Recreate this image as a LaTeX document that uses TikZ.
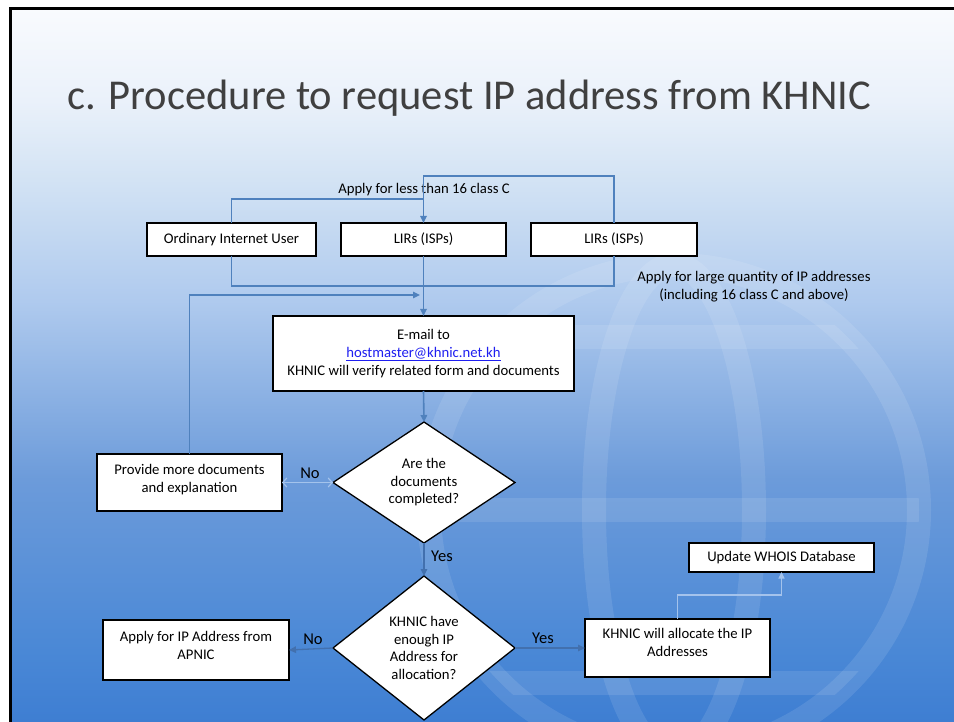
\documentclass[tikz,border=0pt]{standalone}
\usepackage{fontspec}
\setmainfont{Carlito}
\usetikzlibrary{shapes.geometric,arrows.meta}
\definecolor{connblue}{HTML}{4F81BD}
\definecolor{thinblue}{HTML}{4270AE}
\definecolor{lightconn}{HTML}{A4C3EC}
\definecolor{linkblue}{HTML}{1F1FF0}
\definecolor{titlegray}{HTML}{404040}
\definecolor{bga}{HTML}{3E7ED2}
\definecolor{bgb}{HTML}{4A88D6}
\definecolor{bgc}{HTML}{6C9BDA}
\definecolor{bgd}{HTML}{AFCAEE}
\definecolor{bge}{HTML}{D3E3F4}
\definecolor{bgf}{HTML}{EAF1FA}
\definecolor{bgg}{HTML}{F9FBFE}
\pgfdeclareverticalshading{slidebg}{100bp}{color(0bp)=(bga); color(25bp)=(bga); color(30bp)=(bgb); color(42bp)=(bgc); color(54.5bp)=(bgd); color(63bp)=(bge); color(68.5bp)=(bgf); color(75bp)=(bgg); color(100bp)=(bgg)}
\begin{document}
\begin{tikzpicture}[x=1pt,y=-1pt,
  box/.style={draw=black, line width=1.3pt, fill=white, inner sep=0pt, outer sep=0pt, align=center, font=\fontsize{14.7}{18}\selectfont},
  dia/.style={diamond, draw=black, line width=1.3pt, fill=white, inner sep=0pt, outer sep=0pt, align=center, minimum width=182pt, minimum height=121pt, font=\fontsize{14.7}{17.5}\selectfont},
  conn/.style={draw=connblue, line width=1.6pt},
  arr/.style={conn, -{Triangle[length=7pt,width=6.5pt]}},
  thinarr/.style={draw=thinblue, line width=1.3pt, -{Triangle[length=7pt,width=6.5pt]}},
  lightarr/.style={draw=lightconn, line width=1.1pt, -{Triangle[length=6.5pt,width=6pt]}},
  lbl/.style={inner sep=0pt, font=\fontsize{14.7}{18}\selectfont, align=center},
  yn/.style={inner sep=0pt, font=\fontsize{16.5}{19}\selectfont}
]
\useasboundingbox (0,0) rectangle (954,722);
% background
\fill[white] (0,0) rectangle (954,722);
\shade[shading=slidebg] (10,8) rectangle (954,722);
% globe watermark
\begin{scope}[white, opacity=0.1]
  \draw[line width=24pt] (674,510) circle[radius=245pt];
  \draw[line width=24pt] (674,510) ellipse[x radius=80pt, y radius=245pt];
  \begin{scope}
    \clip (674,510) circle[radius=245pt];
    \fill (420,498) rectangle (930,522);
    \fill (420,325) rectangle (930,349);
    \fill (420,671) rectangle (930,695);
  \end{scope}
\end{scope}
% slide frame
\draw[black, line width=3pt] (10.5,722) -- (10.5,8.5) -- (954,8.5);
% title
\node[anchor=base west, inner sep=0pt, text=titlegray, font=\fontsize{42.5}{50}\selectfont] (title) at (67,110) {c. Procedure to request IP address from KHNIC};
% top row
\node[box, minimum width=169pt, minimum height=33pt] (ord) at (231.5,239.5) {Ordinary Internet User};
\node[box, minimum width=165pt, minimum height=33pt] (mlir) at (423.5,239.5) {LIRs (ISPs)};
\node[box, minimum width=166pt, minimum height=33pt] (rlir) at (614,239.5) {LIRs (ISPs)};
\node[lbl] (lessC) at (424,190) {Apply for less than 16 class C};
\node[lbl] (large) at (754,287) {Apply for large quantity of IP addresses\\(including 16 class C and above)};
% email box
\node[box, minimum width=301pt, minimum height=75pt] (email) at (423.5,353.5) {E-mail to\\ \textcolor{linkblue}{\underline{hostmaster@khnic.net.kh}}\\ KHNIC will verify related form and documents};
% decision 1
\node[dia] (d1) at (424,482.5) {Are the\\ documents\\ completed?};
\node[box, minimum width=185pt, minimum height=57pt] (prov) at (189.5,482.5) {Provide more documents\\ and explanation\\[-10pt]\mbox{}};
% decision 2
\node[dia, minimum height=144pt] (d2) at (424,648) {KHNIC have\\ enough IP\\ Address for\\ allocation?};
\node[box, minimum width=186pt, minimum height=60pt] (apnic) at (196,650) {Apply for IP Address from\\ APNIC\\[-8pt]\mbox{}};
\node[box, minimum width=185pt, minimum height=58pt] (alloc) at (677.5,648) {KHNIC will allocate the IP\\ Addresses\\[-6pt]\mbox{}};
\node[box, minimum width=185pt, minimum height=29pt] (whois) at (781.5,557.5) {Update WHOIS Database};
% junction coordinates
\coordinate (tR) at (614,176);
\coordinate (jO) at (423.5,199);
\coordinate (jB) at (423.5,286);
\coordinate (jP) at (420,295);
\coordinate (jW) at (729,595);
% connectors
\draw[arr] (rlir.north) -- (tR) -| (mlir.north);
\draw[conn] (ord.north) |- (jO);
\draw[conn] (ord.south) |- (jB) -| (rlir.south);
\draw[arr] (mlir.south) -- (email.north);
\draw[arr] (prov.north) |- (jP);
\draw[arr] (email.south) -- (d1.north);
\draw[draw=lightconn, line width=1.2pt, {Straight Barb[length=4pt,width=9pt]}-{Straight Barb[length=4pt,width=9pt]}] (prov.east) -- (d1.west);
\node[yn] (no1) at (310,473) {No};
\draw[thinarr] (d1.south) -- (d2.north);
\node[yn] (yes1) at (442,556) {Yes};
\draw[thinarr] (d2.west) -- (apnic.east);
\node[yn] (no2) at (313,639) {No};
\draw[thinarr] (d2.east) -- (alloc.west);
\node[yn] (yes2) at (543,638) {Yes};
\draw[lightarr] (alloc.north) |- (jW) -| (whois.south);
\end{tikzpicture}
\end{document}
